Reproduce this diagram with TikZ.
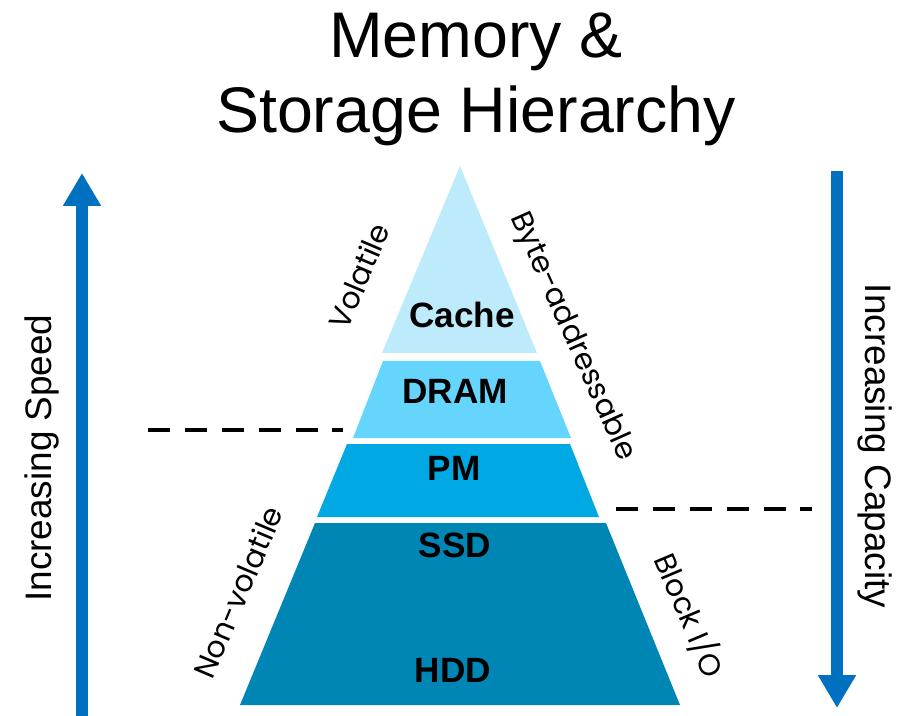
\documentclass[tikz,border=0pt]{standalone}
\usepackage{fontspec}
\setmainfont{Liberation Sans}
\newfontfamily\gothic{Poppins}
\usepackage{tikz}
\usetikzlibrary{arrows.meta}
\usepackage{xcolor}

\definecolor{cachecol}{RGB}{190,235,251}
\definecolor{dramcol}{RGB}{102,213,252}
\definecolor{pmcol}{RGB}{0,169,228}
\definecolor{diskcol}{RGB}{0,134,181}
\definecolor{arrowcol}{RGB}{0,112,192}

\begin{document}
\begin{tikzpicture}[x=0.02cm,y=-0.02cm,
    layerlabel/.style={font=\fontsize{20}{24}\selectfont\bfseries},
    sidelabel/.style={font=\gothic\fontsize{17}{20}\selectfont},
    axislabel/.style={font=\fontsize{21}{25}\selectfont},
    bigarrow/.style={arrowcol, line width=6.8pt, -{Triangle[width=20.4pt,length=18.7pt]}},
    splitline/.style={black, line width=2.3pt, dash pattern=on 12.5pt off 8.5pt}]
        \useasboundingbox (0,0) rectangle (910,716);

        %------------------
        % タイトル
        %------------------
        \node[anchor=base, font=\fontsize{36.7}{44}\selectfont] (title1) at (476,58) {Memory \&};
        \node[anchor=base, font=\fontsize{36.7}{44}\selectfont] (title2) at (476,133) {Storage Hierarchy};

        %------------------
        % ピラミッド
        %------------------
        \fill[cachecol] (460,166) -- (537,353) -- (382,353) -- cycle;
        \fill[dramcol] (383,361) -- (540,361) -- (571,438) -- (353,438) -- cycle;
        \fill[pmcol] (347,444) -- (570,444) -- (599,517) -- (317,517) -- cycle;
        \fill[diskcol] (315,523) -- (606,523) -- (680,705) -- (240,705) -- cycle;

        \node[layerlabel] (cache) at (462,315) {Cache};
        \node[layerlabel] (dram) at (455,391) {DRAM};
        \node[layerlabel] (pm) at (454,468) {PM};
        \node[layerlabel] (ssd) at (455,545) {SSD};
        \node[layerlabel] (hdd) at (453,670) {HDD};

        % 斜めのラベル
        \node[sidelabel, rotate=67] (vol) at (359,276) {Volatile};
        \node[sidelabel, rotate=-66] (byte) at (572,337) {Byte-addressable};
        \node[sidelabel, rotate=67] (nonvol) at (238,592) {Non-volatile};
        \node[sidelabel, rotate=-67] (block) at (690,615) {Block I/O};

        %------------------
        % 境界（破線）
        %------------------
        \coordinate (volL) at (148,430);
        \coordinate (volR) at (343,430);
        \coordinate (blkL) at (616,509);
        \coordinate (blkR) at (812,509);
        \draw[splitline] (volL) -- (volR);
        \draw[splitline] (blkL) -- (blkR);

        %------------------
        % 矢印
        %------------------
        \coordinate (speedS) at (82,716);
        \coordinate (speedE) at (82,173);
        \coordinate (capS) at (837,171);
        \coordinate (capE) at (837,708);
        \draw[bigarrow] (speedS) -- (speedE);
        \draw[bigarrow] (capS) -- (capE);

        \node[axislabel, rotate=90] (speed) at (42,458) {Increasing Speed};
        \node[axislabel, rotate=-90] (cap) at (875,446) {Increasing Capacity};
      \end{tikzpicture}
\end{document}
